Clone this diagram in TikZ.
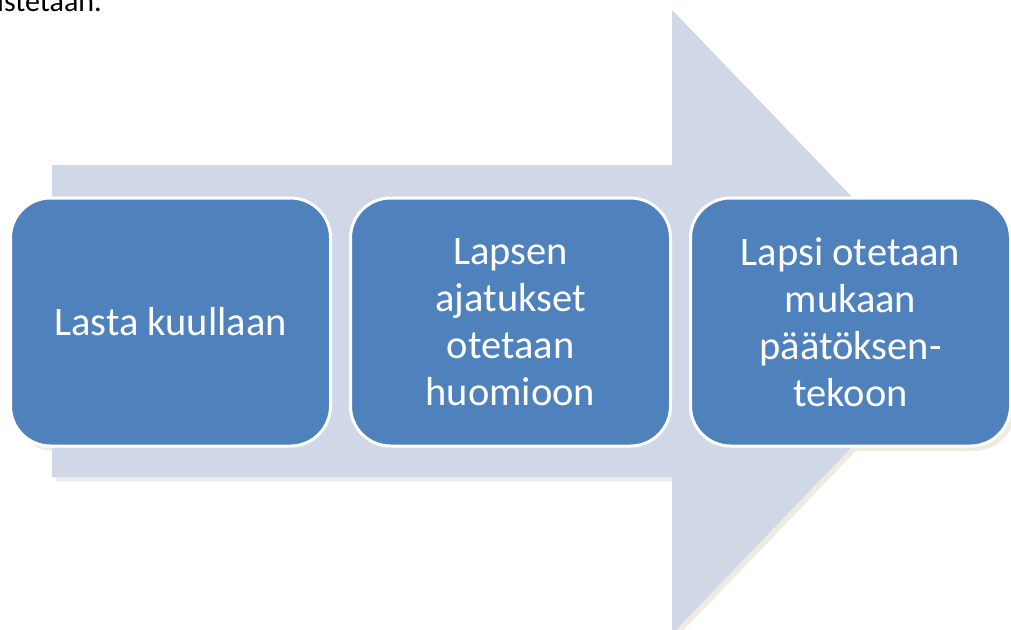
\documentclass[tikz,border=0pt]{standalone}
\usepackage{fontspec}
\setmainfont{Carlito}
\definecolor{arrowfill}{HTML}{D0D8E8}
\definecolor{cream}{HTML}{EEECE1}
\definecolor{boxfill}{HTML}{4F81BD}
\begin{document}
\begin{tikzpicture}[x=1pt,y=-1pt,
  stepbox/.style={draw=white, line width=3pt, fill=boxfill, rounded corners=40pt,
    minimum width=320pt, minimum height=248pt, text=white, align=center,
    font=\fontsize{40.5}{47}\selectfont, inner sep=0pt},
  boxshadow/.style={fill=cream, rounded corners=40pt},
  arrowshape/.style={fill=arrowfill}]
\useasboundingbox (0,0) rectangle (1011,629);
\clip (0,0) rectangle (1011,629);
\node[anchor=base west, inner sep=0pt, font=\fontsize{30}{36}\selectfont] (cut) at (-3,11) {istetaan.};
% box shadows
\foreach \cx in {170.5,510.5,850.5}
  \fill[boxshadow] (\cx-156,203) rectangle (\cx+164,451);
% arrow shadow
\fill[cream] (56,169) -- (676,169) -- (676,14) -- (976,326) -- (676,638) -- (676,481) -- (56,481) -- cycle;
% arrow
\fill[arrowshape] (52,165) -- (672,165) -- (672,10) -- (972,322) -- (672,634) -- (672,477) -- (52,477) -- cycle;
% boxes
\node[stepbox] (b1) at (170.5,322) {Lasta kuullaan};
\node[stepbox] (b2) at (510.5,322) {Lapsen\\ajatukset\\otetaan\\huomioon};
\node[stepbox] (b3) at (850.5,322) {Lapsi otetaan\\mukaan\\päätöksen-\\tekoon};
\end{tikzpicture}
\end{document}
